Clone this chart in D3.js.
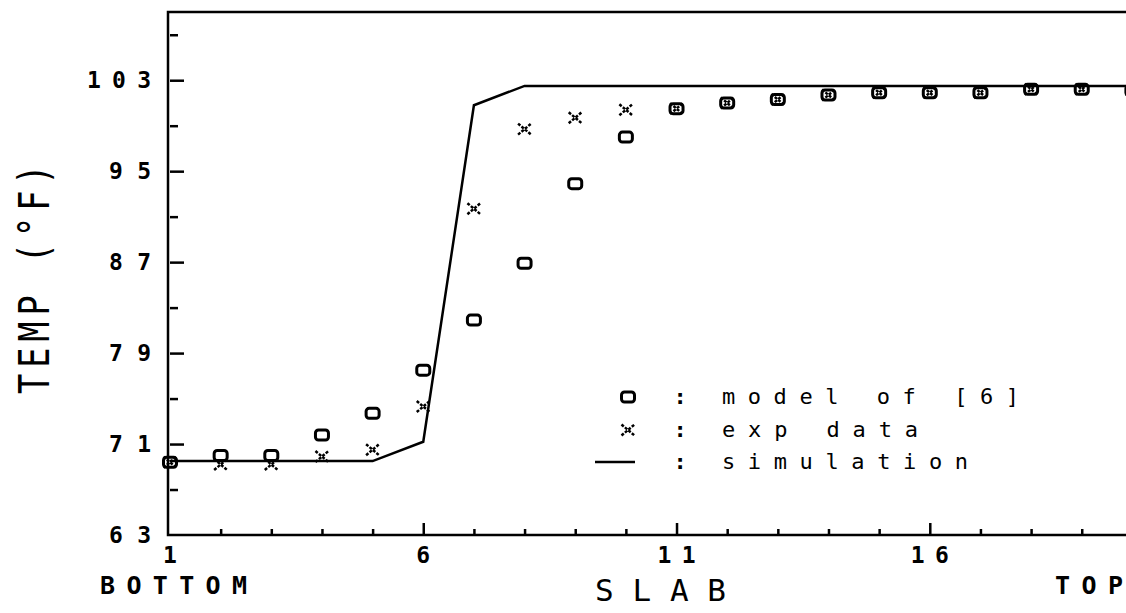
<!DOCTYPE html>
<html>
<head>
<meta charset="utf-8">
<script src="https://cdn.jsdelivr.net/npm/d3@7"></script>
<style>
  body { margin: 0; background: #fff; }
  text { font-family: "DejaVu Sans Mono", monospace; fill: #000; }
</style>
</head>
<body>
<div id="chart"></div>
<script>
// slab number 1 (bottom) .. 20 (top)
var slabs = [1, 2, 3, 4, 5, 6, 7, 8, 9, 10, 11, 12, 13, 14, 15, 16, 17, 18, 19, 20];
// o : model of [6]
var modelTemp = [69.4, 70.0, 70.0, 71.8, 73.7, 77.5, 81.9, 86.9, 93.9, 98.0,
                 100.5, 101.0, 101.3, 101.7, 101.9, 101.9, 101.9, 102.2, 102.2, 102.1];
// x : exp data
var expTemp = [69.4, 69.2, 69.2, 69.9, 70.5, 74.3, 91.7, 98.7, 99.7, 100.4,
               100.5, 101.0, 101.3, 101.7, 101.9, 101.9, 101.9, 102.2, 102.2, 102.1];
// — : simulation
var simTemp = [69.5, 69.5, 69.5, 69.5, 69.5, 71.2, 100.8, 102.5, 102.5, 102.5,
               102.5, 102.5, 102.5, 102.5, 102.5, 102.5, 102.5, 102.5, 102.5, 102.5];

var yMajor = [63, 71, 79, 87, 95, 103];
var yMinor = [67, 75, 83, 91, 99, 107];
var xMajor = [1, 6, 11, 16];
var legendItems = ["model of [6]", "exp data", "simulation"];

var width = 1126, height = 613;

var svg = d3.select("#chart")
    .append("svg")
    .attr("width", width)
    .attr("height", height);

var x = d3.scaleLinear().domain([1, 20]).range([170, 1132.4]);
var y = d3.scaleLinear().domain([63, 109]).range([535, 12]);

// frame: left axis, bottom axis, top line (right side runs off the page)
svg.append("path")
    .attr("d", "M" + width + "," + y(109) + "H" + (x(1) - 2) + "V" + y(63) + "H" + width)
    .attr("fill", "none")
    .attr("stroke", "#000")
    .attr("stroke-width", 2.5);

// y ticks (pointing into the plot)
svg.append("g")
    .attr("transform", "translate(" + x(1) + ",0)")
    .call(d3.axisLeft(y).tickValues(yMajor.filter(function (d) { return d > 63; })).tickSize(-14).tickFormat(""))
    .call(function (g) { g.select(".domain").remove(); g.selectAll("line").attr("stroke-width", 2.5); });
svg.append("g")
    .attr("transform", "translate(" + x(1) + ",0)")
    .call(d3.axisLeft(y).tickValues(yMinor).tickSize(-8).tickFormat(""))
    .call(function (g) { g.select(".domain").remove(); g.selectAll("line").attr("stroke-width", 2.5); });

// x ticks (pointing up)
svg.append("g")
    .attr("transform", "translate(0," + y(63) + ")")
    .call(d3.axisTop(x).tickValues(xMajor.filter(function (d) { return d > 1; })).tickSize(12).tickFormat(""))
    .call(function (g) { g.select(".domain").remove(); g.selectAll("line").attr("stroke-width", 2.5); });
svg.append("g")
    .attr("transform", "translate(0," + y(63) + ")")
    .call(d3.axisTop(x).tickValues(slabs.filter(function (d) { return xMajor.indexOf(d) < 0; })).tickSize(6).tickFormat(""))
    .call(function (g) { g.select(".domain").remove(); g.selectAll("line").attr("stroke-width", 2.5); });

// y tick labels
svg.selectAll(".ylab")
    .data(yMajor)
    .enter().append("text")
    .attr("class", "ylab")
    .attr("x", 151)
    .attr("y", function (d) { return y(d) + 8; })
    .attr("text-anchor", "end")
    .attr("font-size", 23)
    .attr("font-weight", "bold")
    .attr("textLength", function (d) { return String(d).length * 22 - 2; })
    .attr("lengthAdjust", "spacing")
    .text(function (d) { return d; });

// x tick labels
svg.selectAll(".xlab")
    .data(xMajor)
    .enter().append("text")
    .attr("class", "xlab")
    .attr("x", function (d) { return x(d); })
    .attr("y", 563)
    .attr("text-anchor", "middle")
    .attr("font-size", 23)
    .attr("font-weight", "bold")
    .attr("textLength", function (d) { return String(d).length * 20 - 2; })
    .attr("lengthAdjust", "spacing")
    .text(function (d) { return d; });

// axis titles
svg.append("text")
    .attr("x", 100).attr("y", 594)
    .attr("font-size", 25)
    .attr("font-weight", "bold")
    .attr("textLength", 147).attr("lengthAdjust", "spacing")
    .text("BOTTOM");
svg.append("text")
    .attr("x", 1055).attr("y", 594)
    .attr("font-size", 25)
    .attr("font-weight", "bold")
    .attr("textLength", 68).attr("lengthAdjust", "spacing")
    .text("TOP");
svg.append("text")
    .attr("x", 595).attr("y", 601)
    .attr("font-size", 31)
    .attr("textLength", 131).attr("lengthAdjust", "spacing")
    .text("SLAB");
// y title: narrow, tall plotter letters
svg.append("text")
    .attr("transform", "translate(49,394) rotate(-90) scale(0.8,1)")
    .attr("font-size", 42)
    .attr("textLength", 287).attr("lengthAdjust", "spacing")
    .text("TEMP (°F)");

// simulation line
var simData = slabs.map(function (s, i) { return [s, simTemp[i]]; });
svg.append("path")
    .datum(simData)
    .attr("fill", "none")
    .attr("stroke", "#000")
    .attr("stroke-width", 2.5)
    .attr("d", d3.line().x(function (d) { return x(d[0]); }).y(function (d) { return y(d[1]); }));

// marker helpers
function drawO(g, cx, cy) {
    g.append("rect")
        .attr("x", cx - 6.5).attr("y", cy - 5)
        .attr("width", 13).attr("height", 10)
        .attr("rx", 3)
        .attr("fill", "none")
        .attr("stroke", "#000")
        .attr("stroke-width", 3);
}
function drawX(g, cx, cy) {
    g.append("path")
        .attr("d", "M" + (cx - 6.5) + "," + (cy - 5.5) + "L" + (cx + 6.5) + "," + (cy + 5.5) +
                   "M" + (cx - 6.5) + "," + (cy + 5.5) + "L" + (cx + 6.5) + "," + (cy - 5.5))
        .attr("fill", "none")
        .attr("stroke", "#000")
        .attr("stroke-width", 2.5)
        .attr("stroke-dasharray", "3,1.5");
}

var marks = svg.append("g");
slabs.forEach(function (s, i) {
    drawO(marks, x(s), y(modelTemp[i]));
    drawX(marks, x(s), y(expTemp[i]));
});

// legend
var legX = 628, colonX = 680, textX = 722;
var legY = [397, 430, 462];
var legLen = [297, 196, 246];
drawO(svg, legX, legY[0]);
drawX(svg, legX, legY[1]);
svg.append("line")
    .attr("x1", legX - 33).attr("x2", legX + 7)
    .attr("y1", legY[2]).attr("y2", legY[2])
    .attr("stroke", "#000").attr("stroke-width", 2.5);
legendItems.forEach(function (t, i) {
    svg.append("text")
        .attr("x", colonX).attr("y", legY[i] + 7)
        .attr("text-anchor", "middle")
        .attr("font-size", 22)
        .attr("font-weight", "bold")
        .text(":");
    svg.append("text")
        .attr("x", textX).attr("y", legY[i] + 7)
        .attr("font-size", 22)
        .attr("textLength", legLen[i]).attr("lengthAdjust", "spacing")
        .text(t);
});
</script>
</body>
</html>
